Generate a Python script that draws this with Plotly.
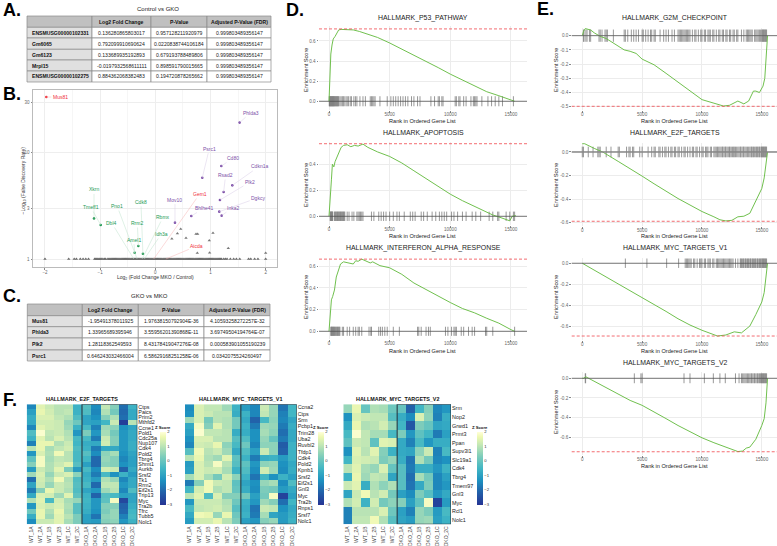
import numpy as np
import plotly.graph_objects as go

W, H = 777, 546
FONT = "Liberation Sans"

# ---------- tables ----------
table_a_genes = ["ENSMUSG00000102331", "Gm6065", "Gm6123", "Mrpl15", "ENSMUSG00000102275"]
table_a_lfc = ["0.136280865803017", "0.792099910690624", "0.133689935192893", "-0.0197932568611111", "0.884362068382483"]
table_a_p = ["0.957128211920979", "0.0220838744106184", "0.679193788489806", "0.898591790015665", "0.194720878265662"]
table_a_fdr = ["0.999803489356147"] * 5
table_c_genes = ["Mus81", "Phlda3", "Plk2", "Psrc1"]
table_c_lfc = ["-1.95491378011925", "1.33965689395946", "1.28118362549593", "0.646243032466004"]
table_c_p = ["1.97638150792904E-36", "3.55956201390868E-11", "8.43178419047276E-08", "6.58629168251258E-06"]
table_c_fdr = ["4.10593258272257E-32", "3.69749504194764E-07", "0.000583901055190239", "0.0342075524260497"]
table_headers = ["", "Log2 Fold Change", "P-Value", "Adjusted P-Value (FDR)"]

# ---------- volcano ----------
volcano_genes = ["Mus81", "Phlda3", "Psrc1", "Cd80", "Cdkn1a", "Rsad2", "Plk2", "Dgkcy", "Inka2", "Bhlhe41", "Mov10",
                 "Xkrn", "Tmeff1", "Pno1", "Dbl4", "Cdk8", "Rrm2", "Amel1", "Rbmx", "Idh3a", "Gem1", "Aicda"]
volcano_lfc = [-1.975, 1.528, 0.851, 1.196, 1.395, 1.238, 1.171, 1.159, 1.202, 0.652, 0.356,
               -1.111, -0.99, -0.33, -0.39, -0.225, -0.308, -0.374, -0.24, -0.2, -0.03, 0.19]
volcano_fdr = [33.4, 19.2, 5.82, 7.5, 4.93, 4.27, 3.59, 2.79, 2.56, 2.54, 2.2,
               2.41, 2.09, 1.0, 1.0, 1.12, 1.325, 1.147, 1.0, 1.0, 1.0, 1.0]
volcano_group = ["red", "purple", "purple", "purple", "purple", "purple", "purple", "purple", "purple", "purple", "purple",
                 "green", "green", "green", "green", "green", "green", "green", "green", "green", "red", "red"]
label_dx = [14, 11, 7, 12, 27, 2, 30, 39, 11, 13, 0, 0, -10, -20, -22, -2, -1, -1, 21, 17, 46, 31]
label_dy = [0, -10, -29, -8, -19, -17, -18, -14, -8, -8, -23, -29, -18, -53, -36, -52, -23, -13, -42, -25, -65, -13]
gray_lfc = [0.30, 0.40, 0.46, 0.556, 0.737, 0.767, 1.045, 0.978, 1.322, 0.761, 0.984, 2.0]
gray_fdr = [1.55, 1.74, 1.92, 1.58, 1.72, 1.72, 1.76, 1.49, 1.26, 1.14, 1.147, 1.14]
flat_lfc = [-2.0, -1.57, -1.47, -1.43, -1.36, -1.31, -1.26, -1.21, -1.1, -1.08, -1.06, -1.04, -1.02, -1.0, -0.98, -0.95, -0.92, -0.9,
            -0.86, -0.84, -0.82, -0.8, -0.78, -0.76, -0.74, -0.72, -0.7, -0.68, -0.66, -0.64, -0.62, -0.6, -0.58, -0.56, -0.54,
            -0.52, -0.5, -0.48, -0.46, -0.44, -0.42, -0.4, -0.38, -0.36, -0.34, -0.32, -0.3, -0.28, -0.26, -0.24, -0.22, -0.2,
            -0.18, -0.16, -0.14, -0.12, -0.1, -0.08, -0.06, -0.04, -0.02, 0.0, 0.02, 0.04, 0.06, 0.08, 0.1, 0.12, 0.14, 0.16,
            0.18, 0.2, 0.22, 0.24, 0.26, 0.28, 0.3, 0.32, 0.34, 0.36, 0.38, 0.4, 0.42, 0.44, 0.46, 0.48, 0.5, 0.52, 0.54, 0.56,
            0.58, 0.6, 0.62, 0.64, 0.66, 0.68, 0.7, 0.72, 0.74, 0.76, 0.78, 0.8, 0.82, 0.84, 0.86, 0.88, 0.9, 0.92, 0.94, 0.96,
            0.98, 1.0, 1.02, 1.04, 1.06, 1.08, 1.1, 1.12, 1.14, 1.16, 1.18, 1.2, 1.24, 1.27, 1.3, 1.36, 1.42, 1.47, 1.53, 1.69,
            1.73, 1.8, 1.86, 2.0]

# ---------- GSEA ----------
p53_rank = [0, 30, 60, 100, 150, 250, 350, 500, 650, 800, 1000, 1500, 2000, 2500, 3000, 3500, 4000, 5000, 6000, 7000, 8000, 9000, 10000, 11000, 12000, 13000, 14000, 14500, 15000, 15300]
p53_es = [0, .1, .25, .38, .47, .56, .62, .645, .68, .71, .715, .715, .71, .695, .675, .65, .635, .58, .52, .46, .4, .335, .27, .21, .15, .095, .055, .035, .01, 0]
p53_hits = [20, 50, 80, 110, 140, 170, 200, 230, 260, 290, 320, 350, 380, 410, 440, 480, 520, 560, 600, 640, 680, 720, 760, 800, 900, 1000, 1100, 1180, 1250, 1400, 1500, 1600, 1750, 1850, 2050, 2180, 2300, 2550, 2800, 3000, 3400, 3500, 3600, 3700, 3800, 4200, 4800, 5100, 5300, 5500, 5700, 5900, 6100, 6300, 6500, 6800, 7000, 7300, 7500, 8400, 8700, 9000, 9100, 9300, 9400, 10400, 10500, 10700, 10800, 11100, 11300, 11700, 11900, 12000, 12100, 12200, 12600, 13100, 13400, 13700, 14000, 14300, 15200]
apo_rank = [0, 50, 120, 200, 280, 400, 500, 700, 800, 1000, 1200, 1500, 1800, 2100, 2400, 2800, 3200, 4000, 5000, 6000, 7000, 8000, 9000, 10000, 11000, 12000, 13000, 13500, 14000, 14500, 14900, 15100, 15400]
apo_es = [0, .1, .2, .28, .4, .38, .42, .46, .48, .53, .545, .55, .535, .545, .54, .555, .53, .495, .46, .41, .35, .29, .23, .17, .12, .075, .03, .01, -.005, -.02, -.035, 0, .005]
apo_hits = [100, 130, 160, 190, 220, 250, 280, 310, 450, 500, 550, 600, 650, 700, 750, 800, 850, 900, 950, 1000, 1050, 1100, 1150, 1200, 1250, 1300, 1500, 1650, 1900, 2050, 2300, 2400, 2500, 2600, 2700, 2800, 3500, 3700, 4100, 4300, 4500, 4700, 5000, 5300, 5600, 5800, 6200, 6700, 6900, 7100, 7600, 7800, 8100, 8500, 8800, 9100, 9300, 9500, 9700, 10100, 10300, 10600, 11000, 11300, 11800, 12100, 12500, 13200, 13500, 13900, 14000, 14600, 14900, 15200, 15300]
ifn_rank = [0, 50, 200, 300, 450, 600, 800, 950, 1200, 1500, 1800, 2000, 2200, 2400, 2700, 3000, 3400, 3600, 4200, 5000, 6000, 7000, 8000, 9000, 10000, 11000, 12000, 13000, 14000, 15000, 15300]
ifn_es = [0, .08, .29, .32, .38, .5, .56, .62, .64, .635, .625, .62, .65, .645, .665, .65, .63, .64, .605, .585, .525, .445, .385, .32, .265, .21, .17, .12, .075, .015, 0]
ifn_hits = [150, 180, 210, 250, 290, 330, 370, 410, 450, 500, 550, 600, 650, 700, 750, 800, 850, 900, 1100, 1200, 1500, 1700, 2000, 2200, 2400, 2500, 2700, 3300, 3450, 3500, 4100, 4250, 4400, 4600, 4800, 5300, 5800, 7300, 7400, 7600, 8000, 8200, 8350, 9600, 9800, 10100, 10300, 10400, 10500, 10900, 11100, 11500, 11800, 12000, 12900, 13000, 13500, 15300]
g2m_rank = [0, 100, 250, 450, 700, 1000, 1500, 2000, 3000, 3500, 4000, 4500, 5000, 6000, 7000, 8000, 9000, 10000, 11000, 11800, 12300, 12800, 13000, 13500, 13900, 14300, 14500, 14800, 15100, 15250, 15350, 15450, 15480]
g2m_es = [0, .03, .05, .045, .04, .02, -.005, -.02, -.07, -.1, -.11, -.125, -.165, -.205, -.265, -.325, -.39, -.45, -.475, -.495, -.49, -.47, -.46, -.48, -.46, -.39, -.39, -.4, -.355, -.3, -.15, -.05, 0]
g2m_hits = [100, 150, 300, 400, 600, 700, 1400, 1500, 1650, 1900, 2000, 2100, 2600, 3500, 3600, 3800, 4100, 4300, 4500, 4700, 5000, 5100, 5300, 5500, 5700, 5800, 6000, 6100, 6500, 6800, 7000, 7200, 7500, 7700, 8000, 8100, 8200, 8300, 8400, 8500, 8600, 8700, 8800, 8900, 9000, 9200, 9400, 9500, 9700, 9900, 10000, 10200, 10300, 10500, 10600, 10700, 10900, 11000, 11200, 11400, 11500, 11700, 11800, 12000, 12100, 12300, 12400, 12600, 12700, 12900, 13000, 13300, 13500, 13700, 13800, 13900, 14000, 14100, 14200, 14400, 14500, 14600, 14700, 14800, 14900, 15000, 15050, 15100, 15150, 15200, 15250, 15300, 15350, 15400]
e2f_rank = [0, 200, 1000, 1700, 3000, 4000, 5000, 6000, 7000, 8000, 9000, 10000, 11000, 11500, 12000, 12500, 13000, 13500, 14000, 14500, 15000, 15200, 15350, 15480]
e2f_es = [.07, .07, .03, 0, -.08, -.14, -.205, -.27, -.335, -.395, -.45, -.505, -.55, -.575, -.585, -.58, -.55, -.545, -.52, -.42, -.31, -.22, -.1, 0]
e2f_hits = [0, 100, 500, 900, 1300, 1400, 1500, 2000, 2400, 3000, 3100, 3700, 3900, 4000, 4200, 4300, 4800, 5000, 5500, 5800, 6000, 6100, 6400, 6500, 6700, 6900, 7000, 7200, 7400, 7500, 7700, 7800, 8000, 8100, 8300, 8500, 8600, 8800, 9000, 9200, 9300, 9500, 9600, 9800, 10000, 10100, 10300, 10400, 10500, 10700, 10800, 11000, 11100, 11200, 11300, 11400, 11500, 11600, 11700, 11750, 11850, 11950, 12000, 12100, 12200, 12300, 12350, 12450, 12550, 12650, 12700, 12800, 12900, 13000, 13100, 13200, 13250, 13350, 13450, 13500, 13600, 13700, 13800, 13900, 14000, 14100, 14150, 14250, 14300, 14400, 14500, 14550, 14650, 14700, 14800, 14850, 14950, 15000, 15050, 15100, 15150, 15200, 15250, 15300, 15350, 15400]
v1_rank = [0, 2000, 5000, 7000, 8000, 9000, 10000, 11000, 11300, 12000, 12700, 13300, 14000, 14500, 15000, 15200, 15350, 15480]
v1_es = [0, -.13, -.33, -.46, -.53, -.59, -.64, -.685, -.695, -.685, -.655, -.665, -.6, -.49, -.37, -.28, -.15, 0]
v1_hits = [3600, 5400, 7050, 8050, 8600, 8700, 8800, 8900, 9000, 9100, 9300, 9400, 9600, 9800, 9900, 10000, 10200, 10300, 10500, 10600, 10700, 10900, 11000, 11200, 11300, 11400, 11500, 11600, 11700, 11800, 11900, 12000, 12100, 12200, 12300, 12400, 12500, 12600, 12800, 13000, 13200, 13250, 13300, 13400, 13450, 13500, 13600, 13650, 13700, 13800, 13850, 13900, 14000, 14050, 14100, 14200, 14250, 14300, 14400, 14450, 14500, 14600, 14650, 14700, 14800, 14850, 14900, 15000, 15050, 15100, 15150, 15200, 15250, 15300, 15350, 15400]
v2_rank = [0, 100, 300, 1000, 2000, 3000, 4000, 5000, 6000, 7000, 8000, 9000, 10000, 11000, 12000, 12500, 13000, 13400, 13700, 14000, 14500, 15000, 15200, 15350, 15480]
v2_es = [0, 0, .015, -.03, -.1, -.16, -.225, -.275, -.34, -.41, -.48, -.545, -.605, -.655, -.7, -.725, -.745, -.74, -.71, -.7, -.62, -.48, -.41, -.25, 0]
v2_hits = [250, 280, 4350, 4900, 5000, 8500, 9000, 10200, 10950, 11500, 11950, 12800, 13100, 13300, 13400, 13500, 13600, 13700, 13800, 13900, 14000, 14100, 14150, 14250, 14350, 14400, 14500, 14600, 14650, 14750, 14800, 14900, 14950, 15000, 15050, 15100, 15150, 15200, 15250, 15300, 15350, 15400]

# ---------- heatmaps ----------
samples = ["WT_1A", "WT_2A", "WT_1B", "WT_2B", "WT_1C", "WT_2C", "DKO_1A", "DKO_2A", "DKO_1B", "DKO_2B", "DKO_1C", "DKO_2C"]
e2f_genes = ["Ctps", "Paics", "Prim2", "Mthfd2", "Ccne1", "Pold1", "Cdc25a", "Nup107", "Cdk4", "Pold2", "Tbrg4", "Shmt1", "Aurkb", "Srsf2", "Tk1", "Rrm2", "Eif2s1", "Trip13", "Myc", "Tra2b", "Tfrc", "Tubb5", "Nolc1"]
e2f_z = [
    [-1.5, 1.5, 1.2, 1.0, 1.0, -0.6, -0.2, -1.4, 1.1, 0.4, -1.9, -0.6],
    [-1.0, 1.6, 1.3, 1.0, 1.1, -0.6, -0.3, -1.5, 0.9, 0.2, -2.0, -0.8],
    [-0.7, 1.4, 1.4, 1.1, 0.9, -0.3, -0.9, -1.3, 0.4, 0.9, -1.9, -0.8],
    [-0.8, 1.3, 1.3, 1.2, 0.6, 0.1, -0.9, -1.0, -0.5, 1.2, -2.8, 1.0],
    [-1.5, 1.5, 1.3, 1.2, 0.7, -0.6, -0.4, -1.6, 0.7, 0.5, -1.3, -0.9],
    [-0.3, 1.9, 1.1, 1.2, 0.9, -1.2, 0.3, -1.2, 0.8, 0.2, -1.2, -0.8],
    [-0.6, 1.5, 1.0, 1.4, 1.0, -0.4, -0.4, -1.7, 1.2, 0.4, -1.2, -0.8],
    [-1.6, 1.6, 1.6, 0.9, 1.2, -0.5, -0.7, -0.8, 1.3, 0.4, -1.2, -0.7],
    [1.0, 1.6, 0.8, 1.1, 1.3, -0.3, -0.6, -1.7, -0.8, -0.8, -1.2, -0.7],
    [-1.2, 1.4, 0.9, 1.7, 1.0, -0.4, -0.2, -1.4, 0.5, 0.8, -1.3, -0.9],
    [-0.1, 1.8, 0.8, 1.1, 1.0, -0.4, -0.5, -2.0, 0.6, 0.4, -1.5, -1.0],
    [0.4, 1.8, 0.9, 1.2, 1.5, -0.2, -1.0, -2.0, 0.5, 0.4, -1.3, -1.0],
    [-1.1, 1.2, 0.9, 1.5, 0.3, -1.1, -0.4, -1.4, 1.3, 1.2, -2.1, -0.8],
    [0.7, 1.4, 0.6, 1.2, 1.4, 0.5, -0.7, -1.7, -0.4, -1.3, -0.6, -1.1],
    [-1.9, 1.3, 0.9, 1.7, 0.9, -0.3, -0.6, -1.1, 0.9, 0.6, -1.5, -0.8],
    [-0.9, 1.2, 0.6, 1.2, 1.0, -0.2, -0.4, -2.0, 1.1, 1.1, -1.2, -0.8],
    [-1.7, 0.4, 1.6, 1.2, 0.9, -0.3, -0.9, -1.2, 0.7, 1.0, -1.5, -0.3],
    [-0.8, 1.4, 1.3, 0.7, 1.5, -0.1, -0.6, -2.1, -0.2, -0.4, -1.0, -0.9],
    [0.9, 1.5, -0.4, 1.3, 0.8, 0.6, -0.5, -1.2, -0.1, 1.8, -2.6, -0.9],
    [-1.2, 1.4, 1.2, 1.4, 0.9, -0.2, -0.6, -1.2, 0.4, 0.4, -2.1, -0.7],
    [0.1, 1.6, 0.9, 1.6, 0.8, -0.2, -0.7, -1.3, 0.3, 0.6, -2.0, -0.5],
    [-0.7, 1.6, 0.7, 1.5, 1.0, 0.3, -1.0, -1.8, 0.5, 0.6, -1.6, -0.4],
    [-1.4, 1.2, 1.2, 1.5, 0.8, 0.3, -1.0, -1.1, 0.4, 0.5, -1.2, -0.6],
]
v1_genes = ["Ccna2", "Ctps", "Srm", "Pcbp1", "Trim28", "Uba2", "Ruvbl2", "Tfdp1", "Cdk4", "Pold2", "Kpnb1", "Srsf2", "Eif2s1", "Gnl3", "Myc", "Tra2b", "Rnps1", "Srsf7", "Nolc1"]
v1_z = [
    [-1.4, 1.4, 1.1, 1.1, 0.7, -0.6, -1.1, -1.5, 1.2, 0.6, -1.8, -0.5],
    [-1.3, 1.4, 1.2, 1.0, 1.0, -0.7, -0.6, -1.5, 1.1, 0.6, -1.6, -0.5],
    [0.7, 1.4, 0.2, 1.0, 0.9, 0.2, -0.8, -2.1, -0.4, 0.5, -1.5, -0.9],
    [-0.8, 1.8, 0.4, 1.5, 0.9, 0.2, -0.6, -1.7, 0.7, 0.6, -1.7, -0.7],
    [-1.0, 1.9, 1.1, 1.1, 1.0, -0.7, -0.7, -1.3, 0.8, 0.5, -1.9, -0.8],
    [-1.3, 1.4, 1.4, 1.0, 1.0, -0.2, -0.3, -1.3, 0.6, 0.0, -1.7, -0.8],
    [-1.5, 1.3, 1.2, 1.6, 0.5, -0.4, 0.1, -1.5, 0.5, 0.5, -2.2, -0.6],
    [-0.2, 1.7, 1.0, 1.2, 0.7, -0.8, -0.3, -1.0, 1.2, 0.5, -2.1, -0.6],
    [1.0, 1.6, 0.9, 0.7, 1.5, -0.1, -0.6, -1.7, -0.7, -0.6, -1.1, -0.6],
    [-1.1, 1.4, 1.0, 1.8, 1.0, -0.2, -0.1, -1.2, 0.5, 0.6, -1.3, -0.8],
    [-1.0, 1.4, 1.2, 1.3, 0.8, -0.6, -0.3, -1.4, 1.3, 0.7, -1.4, -0.7],
    [0.8, 1.4, 0.8, 0.2, 1.3, 0.5, -0.6, -1.8, -0.5, -1.3, -0.6, -1.0],
    [-1.7, 0.4, 1.7, 1.2, 1.1, -0.1, -0.9, -1.3, 0.6, 0.8, -1.4, -0.3],
    [-0.5, 1.3, 1.7, 0.9, 1.1, 0.0, -0.7, -1.4, 0.3, 0.2, -1.1, -0.8],
    [1.0, 1.5, -0.3, 1.4, 0.4, 0.4, 0.2, -1.0, 0.2, 1.8, -2.7, -1.0],
    [-1.2, 1.2, 1.2, 1.2, 0.9, 0.1, -0.6, -1.2, 0.7, 0.4, -1.9, -0.5],
    [-0.4, 1.1, 1.2, 1.3, 1.0, -0.2, -0.7, -1.8, 1.2, 1.1, -1.3, -0.8],
    [-0.8, 1.7, 1.6, 0.6, 1.6, 0.1, -0.6, -1.7, 0.8, -0.9, -1.1, -0.7],
    [-1.1, 1.3, 1.3, 1.6, 1.0, 0.3, -1.0, -1.2, 0.4, 0.6, -1.1, -0.6],
]
v2_genes = ["Srm", "Nop2", "Grwd1", "Prmt3", "Ppan", "Supv3l1", "Slc19a1", "Cdk4", "Tbrg4", "Tmem97", "Gnl3", "Myc", "Rcl1", "Nolc1"]
v2_z = [
    [0.6, 1.6, 0.0, 0.9, 0.8, 0.1, 0.0, -2.1, -0.5, 0.4, -1.5, -1.2],
    [-1.3, 1.4, 1.2, 1.1, 1.1, -0.2, -0.7, -1.4, 1.4, 0.5, -1.6, -0.7],
    [-0.8, 1.6, 0.9, 1.0, 1.3, 0.6, -0.5, -2.3, 0.3, 0.0, -0.9, -0.8],
    [-0.4, 1.9, 1.1, 0.8, 0.8, -0.4, 0.3, -1.2, -0.1, -0.5, -1.7, -1.0],
    [-0.1, 1.2, 1.1, -0.1, 1.5, 1.4, -0.8, -1.6, -0.4, -1.2, -0.7, -0.7],
    [-1.3, 1.5, 1.0, 1.5, 0.4, -0.6, -0.8, -0.9, 0.5, 1.2, -1.6, -0.4],
    [-0.5, 1.4, 1.3, 1.2, 0.3, 0.6, -0.7, -1.8, 0.9, 0.2, -1.5, -1.3],
    [1.0, 1.5, 0.8, 0.6, 1.4, 0.0, -0.2, -1.7, -0.7, -0.7, -1.2, -0.6],
    [-0.6, 1.6, 0.7, 1.1, 1.0, -0.9, -0.2, -1.9, 0.8, 0.2, -1.5, -1.0],
    [1.2, 1.5, -0.7, 0.9, 0.5, 0.9, -0.2, -1.8, -0.8, 0.3, -1.5, -1.2],
    [-0.9, 1.2, 1.7, 1.0, 1.3, 0.2, -1.0, -1.4, 0.3, -0.2, -1.2, -0.8],
    [0.9, 1.3, -0.6, 1.3, 0.2, 0.5, 0.4, -1.0, -0.1, 1.8, -2.7, -1.1],
    [-1.6, 1.0, 1.0, 1.0, 1.4, 0.1, -1.0, -1.6, 0.6, 0.3, -1.1, -0.4],
    [-1.6, 1.1, 1.1, 1.7, 0.9, -0.2, -0.9, -1.1, 0.6, 0.7, -1.0, -0.6],
]

# ---------- helpers ----------
def fx(px):
    return px / W

def fy(py):
    return 1 - py / H

fig = go.Figure()
layout_axes = {}
annotations = []
shapes = []

def text(s, x, y, size, color="#222", bold=False, angle=0, anchor="center"):
    if bold:
        s = "<b>" + s + "</b>"
    annotations.append(dict(text=s, x=fx(x), y=fy(y), xref="paper", yref="paper", showarrow=False,
                            xanchor=anchor, yanchor="middle", textangle=angle,
                            font=dict(size=size, color=color, family=FONT)))

# panel letters
for letter, lx, ly in [("A.", 1, 10), ("B.", 1, 94), ("C.", 1, 296), ("D.", 284, 10), ("E.", 535, 9), ("F.", 1, 400)]:
    text(letter, lx, ly, 18, "#000", True, anchor="left")

# tables drawn as a grid of cells
def add_table(title, tx, ty, genes, lfc, p, fdr, col_edges, row_edges):
    columns = [genes, lfc, p, fdr]
    for c in range(4):
        x0, x1 = col_edges[c], col_edges[c + 1]
        for r in range(len(genes) + 1):
            y0, y1 = row_edges[r], row_edges[r + 1]
            fill = "#c0c0c0" if r == 0 else ("#e0e0e0" if c == 0 else "#ffffff")
            shapes.append(dict(type="rect", xref="paper", yref="paper", x0=fx(x0), x1=fx(x1), y0=fy(y0), y1=fy(y1),
                               fillcolor=fill, line=dict(color="#8a8a8a", width=0.7), layer="below"))
            ym = (y0 + y1) / 2
            if r == 0:
                if table_headers[c]:
                    text(table_headers[c], (x0 + x1) / 2, ym, 5.1, "#111", True)
            elif c == 0:
                text(columns[c][r - 1], x0 + 2.5, ym, 5.1, "#111", True, anchor="left")
            else:
                text(columns[c][r - 1], (x0 + x1) / 2, ym, 5.1, "#222")
    text(title, tx, ty, 6, "#222")

add_table("Control vs GKO", 158, 9, table_a_genes, table_a_lfc, table_a_p, table_a_fdr,
          [27, 92, 151, 207, 271], [16, 27.3, 38, 49.3, 60, 71, 82])
add_table("GKO vs MKO", 149, 296, table_c_genes, table_c_lfc, table_c_p, table_c_fdr,
          [27.3, 82.3, 138.3, 204, 270], [304, 315.7, 326.7, 338, 350, 361])

# volcano
GRID = "#eeeeee"
layout_axes["xaxis"] = dict(domain=[fx(33), fx(277)], range=[-2.217, 2.205], anchor="y", tickvals=[-2, -1, 0, 1, 2], ticklabelstandoff=-1,
                            tickfont=dict(size=4.5, color="#666", family=FONT), ticks="outside", ticklen=1.5, tickwidth=0.5, tickcolor="#888",
                            showgrid=True, gridcolor=GRID, gridwidth=0.6, zeroline=False, showline=True, linecolor="#bbb", linewidth=1, mirror=True,
                            minor=dict(tickvals=[-1.5, -0.5, 0.5, 1.5], showgrid=True, gridcolor="#f6f6f6", gridwidth=0.4, ticks=""))
layout_axes["yaxis"] = dict(domain=[fy(267), fy(90)], type="log", range=[-0.075, 1.59], anchor="x", tickvals=[1, 3, 10, 30], ticktext=["1", "3", "10", "30"],
                            tickfont=dict(size=4.5, color="#666", family=FONT), ticks="outside", ticklen=1.5, tickwidth=0.5, tickcolor="#888",
                            showgrid=True, gridcolor=GRID, gridwidth=0.6, zeroline=False, showline=True, linecolor="#bbb", linewidth=1, mirror=True)
fig.add_trace(go.Scatter(x=flat_lfc, y=[1.0] * len(flat_lfc), mode="markers", xaxis="x", yaxis="y",
                         marker=dict(symbol="triangle-up", size=3, color="#6a6a6a")))
fig.add_trace(go.Scatter(x=gray_lfc, y=gray_fdr, mode="markers", xaxis="x", yaxis="y",
                         marker=dict(symbol="triangle-up", size=3, color="#777")))
VC = {"red": "#f0303a", "purple": "#7d4fa8", "green": "#259a55"}
VL = {"red": "#f7b4b4", "purple": "#d8cce6", "green": "#bfe2cc"}
for grp in ["purple", "green", "red"]:
    idx = [i for i, g in enumerate(volcano_group) if g == grp and volcano_fdr[i] > 1.0]
    fig.add_trace(go.Scatter(x=[volcano_lfc[i] for i in idx], y=[volcano_fdr[i] for i in idx], mode="markers", xaxis="x", yaxis="y",
                             marker=dict(size=2.6, color=VC[grp])))
for i, g in enumerate(volcano_genes):
    grp = volcano_group[i]
    annotations.append(dict(x=volcano_lfc[i], y=float(np.log10(volcano_fdr[i])), xref="x", yref="y", text=g,
                            ax=label_dx[i], ay=label_dy[i], showarrow=True, arrowhead=0, arrowwidth=0.5, arrowcolor=VL[grp],
                            font=dict(size=5, color=VC[grp], family=FONT)))
shapes.append(dict(type="line", xref="x domain", yref="y", x0=0, x1=1, y0=float(np.log10(1.316)), y1=float(np.log10(1.316)),
                   line=dict(color="#666", width=0.6, dash="dash")))
text("Log<sub>2</sub> (Fold Change MKO / Control)", 155, 277, 5, "#333")
text("\u2212Log<sub>10</sub> (False Discovery Rate)", 23.5, 181, 5, "#333", angle=-90)

# GSEA panels
axis_n = [2]

def gsea(title, rank, es, hits, extreme, xr, px_x, px_y, yr, yticks, rug, ylabel_x, title_y, xtitle_y, center_x, center_y, zero_color, zero_w):
    n = axis_n[0]
    axis_n[0] += 1
    xn, yn = "x%d" % n, "y%d" % n
    base = dict(tickfont=dict(size=4.6, color="#666", family=FONT), ticks="outside", ticklen=1.5, tickwidth=0.5, tickcolor="#888",
                showgrid=True, gridcolor="#ececec", gridwidth=0.5, zeroline=False, showline=False)
    layout_axes["xaxis%d" % n] = dict(domain=[fx(px_x[0]), fx(px_x[1])], range=xr, anchor=yn, ticklabelstandoff=-2,
                                      tickvals=[0, 5000, 10000, 15000], ticktext=["0", "5000", "10000", "15000"], **base)
    layout_axes["yaxis%d" % n] = dict(domain=[fy(px_y[1]), fy(px_y[0])], range=yr, anchor=xn, tickvals=yticks,
                                      ticktext=["%.1f" % v for v in yticks], **base)
    rx, ry = [], []
    for h in hits:
        rx += [h, h, None]
        ry += [-rug, rug, None]
    fig.add_trace(go.Scatter(x=rx, y=ry, mode="lines", xaxis=xn, yaxis=yn, opacity=0.5,
                             line=dict(color="#000", width=0.8)))
    fig.add_trace(go.Scatter(x=rank, y=es, mode="lines", xaxis=xn, yaxis=yn,
                             line=dict(color="#68bd45", width=0.95)))
    shapes.append(dict(type="line", xref=xn + " domain", yref=yn, x0=0, x1=1, y0=0, y1=0, layer="above",
                       line=dict(color=zero_color, width=zero_w)))
    shapes.append(dict(type="line", xref=xn + " domain", yref=yn, x0=0, x1=1, y0=extreme, y1=extreme, layer="above",
                       line=dict(color="#f0484e", width=0.8, dash="3px,2px")))
    text(title, center_x, title_y, 6.9, "#222")
    text("Rank in Ordered Gene List", center_x - 1, xtitle_y, 5.6, "#222")
    text("Enrichment Score", ylabel_x, center_y, 5.6, "#222", angle=-90)

D_X = [319, 527]
D_R = [-824, 16320]
E_X = [571.7, 777]
E_R = [-883, 16270]
gsea("HALLMARK_P53_PATHWAY", p53_rank, p53_es, p53_hits, 0.72, D_R, D_X, [26, 110], [-0.087, 0.749], [0, .2, .4, .6], .05, 306, 17.7, 120.7, 423, 70, "#555", 0.8)
gsea("HALLMARK_APOPTOSIS", apo_rank, apo_es, apo_hits, 0.558, D_R, D_X, [141.5, 225], [-0.067, 0.575], [0, .2, .4], .036, 306, 133, 235.7, 423, 185, "#555", 0.8)
gsea("HALLMARK_INTERFERON_ALPHA_RESPONSE", ifn_rank, ifn_es, ifn_hits, 0.665, D_R, D_X, [257.5, 339], [-0.071, 0.68], [0, .2, .4, .6], .042, 306, 248, 350.7, 423, 297, "#555", 0.8)
gsea("HALLMARK_G2M_CHECKPOINT", g2m_rank, g2m_es, g2m_hits, -0.497, E_R, E_X, [28, 110], [-0.523, 0.054], [0, -.1, -.2, -.3, -.4, -.5], .043, 556, 18.3, 120.7, 675, 70, "#666", 0.9)
gsea("HALLMARK_E2F_TARGETS", e2f_rank, e2f_es, e2f_hits, -0.588, E_R, E_X, [143, 226], [-0.628, 0.076], [0, -.2, -.4, -.6], .045, 556, 132.7, 235.7, 675, 185, "#888", 1.6)
gsea("HALLMARK_MYC_TARGETS_V1", v1_rank, v1_es, v1_hits, -0.695, E_R, E_X, [258, 340], [-0.733, 0.05], [0, -.2, -.4, -.6], .045, 556, 248.3, 351, 675, 297, "#555", 0.8)
gsea("HALLMARK_MYC_TARGETS_V2", v2_rank, v2_es, v2_hits, -0.747, E_R, E_X, [372, 455], [-0.78, 0.064], [0, -.2, -.4, -.6], .05, 556, 363.3, 466, 675, 412, "#555", 0.8)

# heatmaps
SCALE = [[0, "#253494"], [1 / 6, "#225ea8"], [2 / 6, "#1d91c0"], [0.5, "#41b6c4"], [4 / 6, "#7fcdbb"], [5 / 6, "#c7e9b4"], [0.93, "#edf8b1"], [1, "#ffffd9"]]

def heat(title, genes, z, x0, x1, cb_x):
    n = axis_n[0]
    axis_n[0] += 1
    xn, yn = "x%d" % n, "y%d" % n
    y0, y1 = 404.2, 524.3
    layout_axes["xaxis%d" % n] = dict(domain=[fx(x0), fx(x1)], anchor=yn, range=[-0.5, 11.5], tickmode="array", tickvals=list(range(12)), ticktext=samples,
                                      tickangle=-90, tickfont=dict(size=5, color="#444", family=FONT), ticks="", showgrid=False, zeroline=False)
    layout_axes["yaxis%d" % n] = dict(domain=[fy(y1), fy(y0)], anchor=xn, side="right", range=[len(genes) - 0.5, -0.5], tickmode="array",
                                      tickvals=list(range(len(genes))), ticktext=genes, tickfont=dict(size=5.4, color="#222", family=FONT),
                                      ticks="", showgrid=False, zeroline=False)
    fig.add_trace(go.Heatmap(z=z, xaxis=xn, yaxis=yn, zmin=-3, zmax=2, colorscale=SCALE, xgap=0, ygap=0,
                             colorbar=dict(x=fx(cb_x), xanchor="left", xref="paper", xpad=0, ypad=0, y=fy(431.5), yanchor="top", yref="paper", len=72.5, lenmode="pixels",
                                           thickness=5.7, thicknessmode="pixels", outlinewidth=0, tickvals=[-3, -2, -1, 0, 1, 2],
                                           ticktext=["\u22123", "\u22122", "\u22121", "0", "1", "2"], ticks="", tickfont=dict(size=4.2, color="#333", family=FONT))))
    shapes.append(dict(type="rect", xref=xn, yref=yn, x0=5.5, x1=11.5, y0=-0.5, y1=len(genes) - 0.5,
                       line=dict(color="#2a3a44", width=1.1), fillcolor="rgba(0,0,0,0)", layer="above"))
    text(title, (x0 + x1) / 2, 399, 5.4, "#111", True)
    text("Z Score", cb_x + 3, 427, 4.2, "#111", True)

heat("HALLMARK_E2F_TARGETS", e2f_genes, e2f_z, 26.7, 137.3, 160)
heat("HALLMARK_MYC_TARGETS_V1", v1_genes, v1_z, 185, 296.7, 317.7)
heat("HALLMARK_MYC_TARGETS_V2", v2_genes, v2_z, 343.3, 451, 476.7)

fig.update_layout(width=W, height=H, margin=dict(l=0, r=0, t=0, b=0, pad=0), autosize=False, showlegend=False,
                  paper_bgcolor="#fff", plot_bgcolor="#fff", font=dict(family=FONT), annotations=annotations, shapes=shapes, **layout_axes)
fig.write_html("out.html", post_script="document.body.style.margin='0';document.body.style.overflow='hidden';", config=dict(displayModeBar=False))
